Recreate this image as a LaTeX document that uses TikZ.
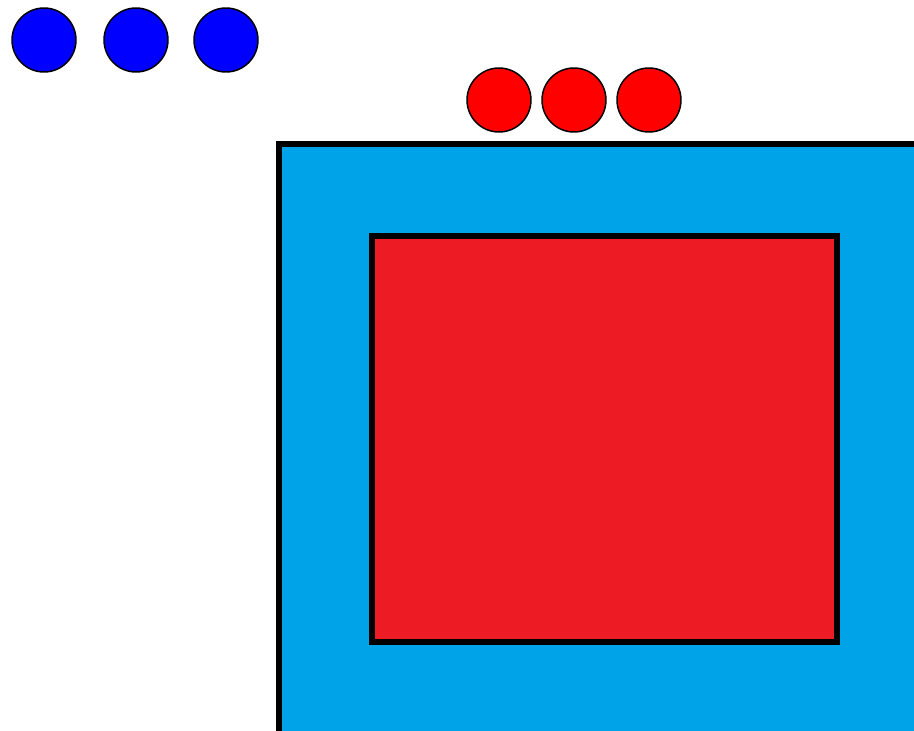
\documentclass[tikz,border=0pt]{standalone}
\usepackage{xcolor}
\usepackage{tikz}
\definecolor{frame}{RGB}{0,162,232}
\definecolor{core}{RGB}{237,28,36}
\definecolor{dotblue}{RGB}{0,0,255}
\definecolor{dotred}{RGB}{255,0,0}

\begin{document}
\begin{tikzpicture}[x=0.02cm,y=-0.02cm,
  dot/.style={circle,draw=black,line width=0.85pt,minimum size=1.28cm,inner sep=0pt}]
  \useasboundingbox (0,0) rectangle (914,731);
  \clip (0,0) rectangle (914,731);
  \fill[frame] (279,144) rectangle (930,735);
  \draw[line width=3.4pt] (930,144)--(279,144)--(279,734)--(930,734);
  \draw[fill=core,line width=3.4pt] (372,236) rectangle (837,642);
  \node[dot,fill=dotblue] (b1) at (44,40) {};
  \node[dot,fill=dotblue] (b2) at (136,40) {};
  \node[dot,fill=dotblue] (b3) at (226,40) {};
  \node[dot,fill=dotred] (r1) at (499,100) {};
  \node[dot,fill=dotred] (r2) at (574,100) {};
  \node[dot,fill=dotred] (r3) at (649,100) {};
\end{tikzpicture}
\end{document}
